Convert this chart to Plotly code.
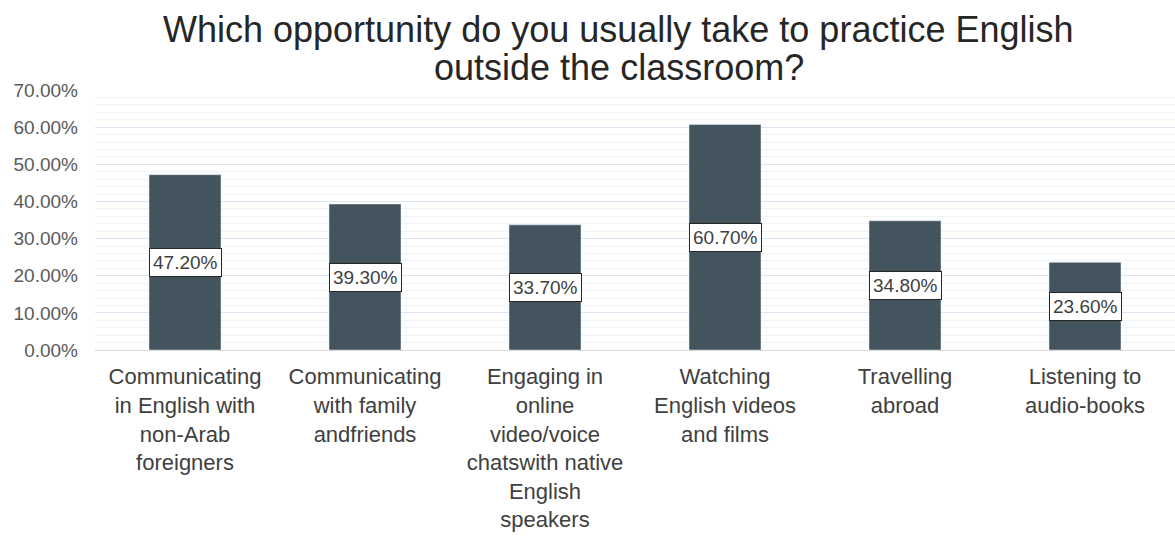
import plotly.graph_objects as go

categories = [
    "Communicating<br>in English with<br>non-Arab<br>foreigners",
    "Communicating<br>with family<br>andfriends",
    "Engaging in<br>online<br>video/voice<br>chatswith native<br>English<br>speakers",
    "Watching<br>English videos<br>and films",
    "Travelling<br>abroad",
    "Listening to<br>audio-books",
]
values = [0.472, 0.393, 0.337, 0.607, 0.348, 0.236]
labels = ["47.20%", "39.30%", "33.70%", "60.70%", "34.80%", "23.60%"]
title_lines = ["Which opportunity do you usually take to practice English", "outside the classroom?"]

FONT = "Arial, 'Liberation Sans', sans-serif"

fig = go.Figure()
fig.add_trace(go.Bar(x=categories, y=values, marker_color="#44545f", width=0.4, hoverinfo="skip"))

for c, v, t in zip(categories, values, labels):
    fig.add_annotation(x=c, y=v / 2, text=t, showarrow=False,
                       font=dict(family=FONT, size=19, color="#404040"),
                       bgcolor="white", bordercolor="#262626", borderwidth=1, borderpad=3)

for yy, line in zip([1.232, 1.087], title_lines):
    fig.add_annotation(xref="paper", yref="paper", x=0.485, y=yy, xanchor="center", yanchor="middle",
                       text=line, showarrow=False,
                       font=dict(family=FONT, size=36, color="#262626"))

fig.update_layout(
    width=1175, height=538,
    margin=dict(l=95, r=0, t=90, b=188),
    paper_bgcolor="white", plot_bgcolor="white",
    showlegend=False,
    bargap=0.6,
    font=dict(family=FONT),
)
fig.update_yaxes(range=[0, 0.7], dtick=0.1, tickformat=".2%", automargin=False,
                 tickfont=dict(family=FONT, size=19, color="#595959"),
                 gridcolor="#dce6f2", gridwidth=1, zeroline=False, showline=False,
                 ticks="", ticklabelstandoff=16,
                 minor=dict(dtick=0.02, showgrid=True, gridcolor="#eef3f9", gridwidth=1))
fig.update_xaxes(tickfont=dict(family=FONT, size=22, color="#404040"), showline=True, linecolor="#d9d9d9",
                 ticks="", tickangle=0, ticklabelstandoff=7, automargin=False)

fig.write_html("out.html")
